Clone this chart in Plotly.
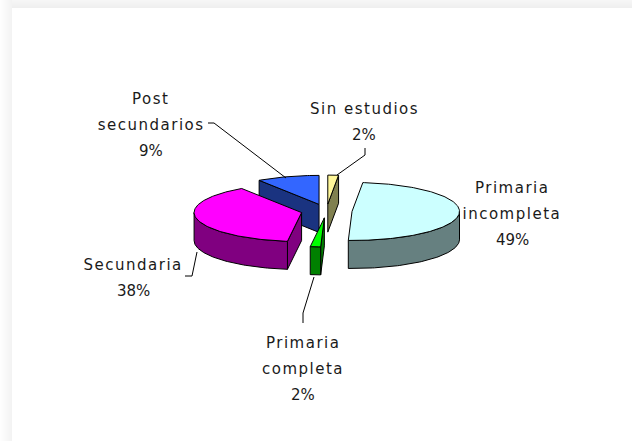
import math
import plotly.graph_objects as go

# ---- data ----
categories = ["Sin estudios", "Primaria incompleta", "Primaria completa", "Secundaria", "Post secundarios"]
values = [1.6, 48.95, 1.55, 38.49, 9.41]
label_lines = [["Sin estudios"], ["Primaria", "incompleta"], ["Primaria", "completa"], ["Secundaria"], ["Post", "secundarios"]]

# ---- styles / layout ----
top_colors = ["#FFF799", "#CCFFFF", "#00FF00", "#FF00FF", "#3366FF"]
side_colors = ["#808050", "#668080", "#008000", "#800080", "#1A3380"]
draw_order = [4, 0, 1, 3, 2]
CX, CY, RX, RY, DEPTH, EXPLODE = 326.5, 211.0, 107.5, 29.0, 28.0, 0.238
label_pos = [(364, 108.5), (512, 187.5), (303, 342.5), (133, 264.5), (151, 99)]
LINE_GAP = 26
leader_lines = {
    0: ([365, 365, 337], [148, 155, 175]),
    2: ([303, 303, 314], [323, 313, 277]),
    3: ([185, 192, 197], [276, 276, 252]),
    4: ([208, 214, 286], [123, 123, 178]),
}

fig = go.Figure()

def poly(xs, ys, fill, name):
    fig.add_trace(go.Scatter(x=xs + xs[:1], y=ys + ys[:1], mode="lines", fill="toself", fillcolor=fill,
                             line=dict(color="#000000", width=1), hoverinfo="skip", showlegend=False, name=name))

total = sum(values)
cum = 0.0
geom = []
for v in values:
    a0 = cum / total * 360
    cum += v
    geom.append((a0, cum / total * 360))

for i in draw_order:
    a0, a1 = geom[i]
    mid = math.radians((a0 + a1) / 2)
    ax = CX + EXPLODE * RX * math.sin(mid)
    ay = CY - EXPLODE * RY * math.cos(mid)
    n = max(3, int(a1 - a0))
    angs = [math.radians(a0 + (a1 - a0) * k / n) for k in range(n + 1)]
    rim = [(ax + RX * math.sin(t), ay - RY * math.cos(t)) for t in angs]
    # radial walls facing the viewer
    for edge, normal in ((a0, a0 - 90), (a1, a1 + 90)):
        if math.cos(math.radians(normal)) < 0:
            t = math.radians(edge)
            ex, ey = ax + RX * math.sin(t), ay - RY * math.cos(t)
            poly([ax, ex, ex, ax], [ay, ey, ey + DEPTH, ay + DEPTH], side_colors[i], categories[i])
    # outer wall on the front half
    front = [p for p, t in zip(rim, angs) if math.cos(t) <= 0]
    if len(front) > 1:
        xs = [p[0] for p in front]
        ys = [p[1] for p in front]
        poly(xs + xs[::-1], ys + [y + DEPTH for y in ys[::-1]], side_colors[i], categories[i])
    poly([ax] + [p[0] for p in rim], [ay] + [p[1] for p in rim], top_colors[i], categories[i])

for i, (xs, ys) in leader_lines.items():
    fig.add_trace(go.Scatter(x=xs, y=ys, mode="lines", line=dict(color="#000000", width=1),
                             hoverinfo="skip", showlegend=False))

annotations = []
for i, lines in enumerate(label_lines):
    pct = f"{round(values[i] / total * 100)}%"
    lx, ly = label_pos[i]
    for k, t in enumerate(lines + [pct]):
        annotations.append(dict(x=lx, y=ly + k * LINE_GAP, xref="x", yref="y", text=t, showarrow=False,
                                xanchor="center", yanchor="middle",
                                font=dict(family="DejaVu Sans", size=15, color="#1a1a1a")))

# soft card shadow along the page edges
shapes = []
for k in range(8):
    shade = 246 - k
    shapes.append(dict(type="rect", xref="x", yref="y", x0=0, x1=632, y0=k, y1=k + 1, line_width=0,
                       fillcolor=f"rgb({shade},{shade},{shade})", layer="below"))
for k in range(12):
    shade = 254 - k
    shapes.append(dict(type="rect", xref="x", yref="y", x0=k, x1=k + 1, y0=0, y1=441, line_width=0,
                       fillcolor=f"rgb({shade},{shade},{shade})", layer="below"))

fig.update_layout(
    width=632, height=441, margin=dict(l=0, r=0, t=0, b=0), autosize=False,
    paper_bgcolor="#FFFFFF", plot_bgcolor="#FFFFFF", showlegend=False,
    xaxis=dict(range=[0, 632], visible=False, fixedrange=True),
    yaxis=dict(range=[441, 0], visible=False, fixedrange=True),
    annotations=annotations, shapes=shapes,
)
post = ("document.body.style.margin='0';"
        "document.querySelectorAll('.annotation-text').forEach(function(e){"
        "if(!/%/.test(e.textContent)){e.style.letterSpacing='1.5px';}});")
fig.write_html("out.html", post_script=post, config=dict(displayModeBar=False))
